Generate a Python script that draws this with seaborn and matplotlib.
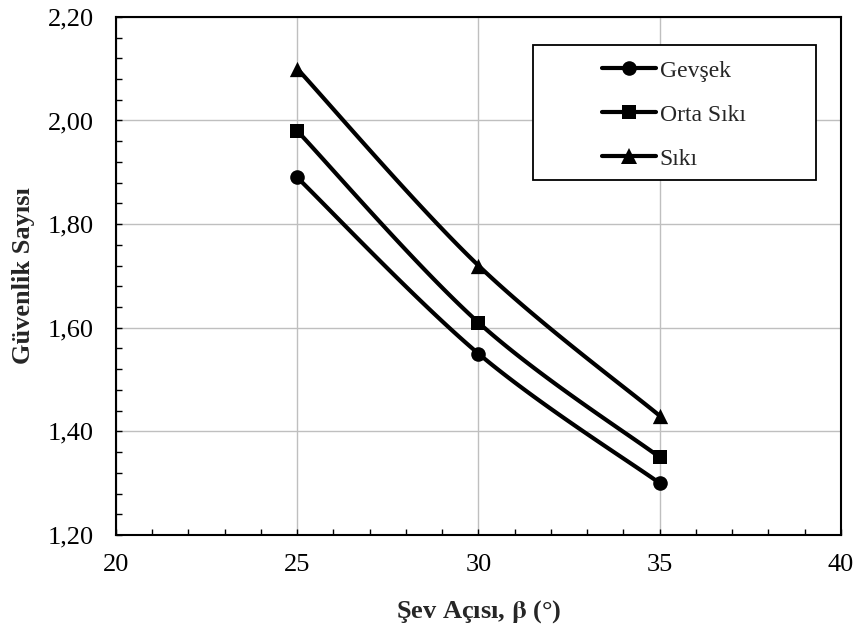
import numpy as np
import matplotlib
matplotlib.use("Agg")
import matplotlib.pyplot as plt
import seaborn as sns
from matplotlib.lines import Line2D
from matplotlib.patches import Rectangle
from matplotlib.ticker import MultipleLocator, FuncFormatter

# data
aci = [25, 30, 35]
gevsek = [1.89, 1.55, 1.30]
orta_siki = [1.98, 1.61, 1.35]
siki = [2.10, 1.72, 1.43]

series_names = ["Gevşek", "Orta Sıkı", "Sıkı"]
series_vals = [gevsek, orta_siki, siki]
series_markers = ["o", "s", "^"]
marker_sizes = [10.5, 10, 11]

sns.set_theme(style="white")
plt.rcParams["font.family"] = ["Liberation Serif", "DejaVu Serif"]
plt.rcParams["mathtext.fontset"] = "stix"


def smooth(x, y, n=40):
    # excel style smoothed line (bezier through the points)
    x = np.asarray(x, float)
    y = np.asarray(y, float)
    px = np.concatenate([[x[0]], x, [x[-1]]])
    py = np.concatenate([[y[0]], y, [y[-1]]])
    xs, ys = [], []
    t = np.linspace(0, 1, n)
    for i in range(1, len(px) - 2):
        p0 = np.array([px[i], py[i]])
        p3 = np.array([px[i + 1], py[i + 1]])
        p1 = p0 + (np.array([px[i + 1], py[i + 1]]) - np.array([px[i - 1], py[i - 1]])) / 6
        p2 = p3 - (np.array([px[i + 2], py[i + 2]]) - np.array([px[i], py[i]])) / 6
        b = ((1 - t) ** 3)[:, None] * p0 + (3 * (1 - t) ** 2 * t)[:, None] * p1 \
            + (3 * (1 - t) * t ** 2)[:, None] * p2 + (t ** 3)[:, None] * p3
        xs.extend(b[:, 0])
        ys.extend(b[:, 1])
    return np.array(xs), np.array(ys)


fig = plt.figure(figsize=(8.59, 6.44), dpi=100)
ax = fig.add_axes([0.135, 0.1693, 0.844, 0.8045])

handles = []
for name, vals, mk, ms in zip(series_names, series_vals, series_markers, marker_sizes):
    sx, sy = smooth(aci, vals)
    sns.lineplot(x=sx, y=sy, ax=ax, color="black", linewidth=3, sort=False)
    sns.scatterplot(x=aci, y=vals, ax=ax, color="black", marker=mk,
                    s=ms ** 2, edgecolor="black", linewidth=0, zorder=4)
    handles.append(Line2D([], [], color="black", linewidth=3, marker=mk,
                          markersize=ms, markeredgewidth=0, label=name))

ax.set_xlim(20, 40)
ax.set_ylim(1.20, 2.20)
ax.xaxis.set_major_locator(MultipleLocator(5))
ax.xaxis.set_minor_locator(MultipleLocator(1))
ax.yaxis.set_major_locator(MultipleLocator(0.2))
ax.yaxis.set_minor_locator(MultipleLocator(0.04))
ax.yaxis.set_major_formatter(FuncFormatter(lambda v, p: f"{v:.2f}".replace(".", ",")))
ax.tick_params(which="both", direction="in", colors="black", labelsize=19,
               bottom=True, left=True)
ax.tick_params(which="major", length=4, width=1)
ax.tick_params(which="minor", length=4, width=1)
ax.tick_params(axis="x", pad=14)
ax.tick_params(axis="y", pad=16)
ax.grid(True, which="major", color="#bfbfbf", linewidth=1)
for s in ax.spines.values():
    s.set_color("black")
    s.set_linewidth(1.5)

ax.set_xlabel(r"Şev Açısı, $\mathbf{\beta}$ (°)", fontsize=19, fontweight="bold", labelpad=16)
ax.set_ylabel("Güvenlik Sayısı", fontsize=19, fontweight="bold", labelpad=9)

# legend box
frame = Rectangle((0.575, 0.685), 0.391, 0.261, transform=ax.transAxes,
                  facecolor="white", edgecolor="black", linewidth=1.3, zorder=5)
ax.add_patch(frame)
leg = ax.legend(handles=handles, loc="center left", bbox_to_anchor=(0.670, 0.811),
                fontsize=17, frameon=False, handlelength=2.3,
                handletextpad=0.15, labelspacing=0.95, borderpad=0,
                borderaxespad=0)
leg.set_zorder(6)

fig.savefig("out.png", dpi=100)
